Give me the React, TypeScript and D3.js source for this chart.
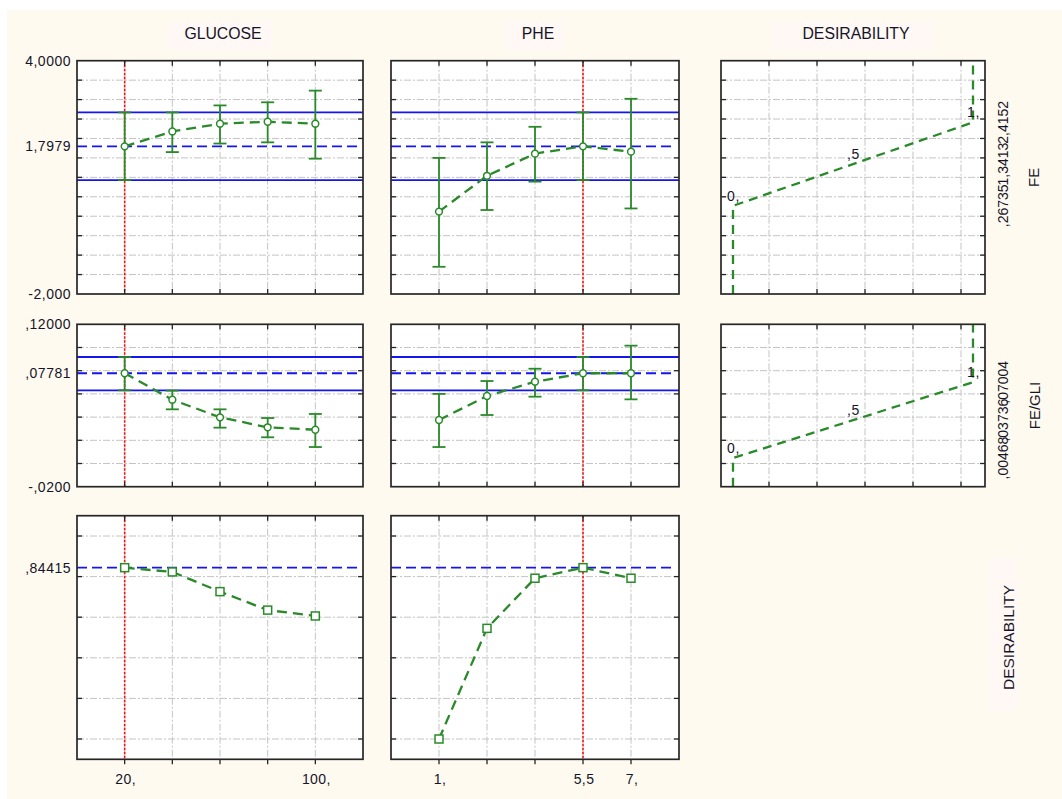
import React from "react";
import * as d3 from "d3";

// factor levels
const glucoseLevels = [20, 40, 60, 80, 100];
const pheLevels = [1, 2.5, 4, 5.5, 7];

// FE predicted values with confidence limits
const feGlucose = [1.798, 2.18, 2.38, 2.43, 2.38];
const feGlucoseHi = [2.67, 2.67, 2.85, 2.93, 3.23];
const feGlucoseLo = [0.93, 1.65, 1.87, 1.9, 1.48];
const fePhe = [0.12, 1.04, 1.61, 1.798, 1.66];
const fePheHi = [1.5, 1.9, 2.3, 2.67, 3.02];
const fePheLo = [-1.3, 0.16, 0.89, 0.93, 0.2];

// FE/GLI predicted values with confidence limits
const gliGlucose = [0.0778, 0.055, 0.0398, 0.0312, 0.0291];
const gliGlucoseHi = [0.0918, 0.0628, 0.0467, 0.0392, 0.0427];
const gliGlucoseLo = [0.0631, 0.0467, 0.0309, 0.0226, 0.0142];
const gliPhe = [0.0375, 0.0582, 0.0705, 0.0778, 0.0778];
const gliPheHi = [0.06, 0.0711, 0.0817, 0.0918, 0.1016];
const gliPheLo = [0.0142, 0.0418, 0.0576, 0.0631, 0.0553];

// overall desirability
const desGlucose = [0.844, 0.823, 0.726, 0.635, 0.606];
const desPhe = [0.0, 0.545, 0.792, 0.844, 0.792];

// reference lines
const feMean = 1.7979;
const feBand = [0.93, 2.67];
const gliMean = 0.07781;
const gliBand = [0.0631, 0.0918];
const desMean = 0.84415;

// desirability functions: response value at d = 0, .5, 1
const desirabilityD = [0, 0.5, 1];
const desirabilityDLabels = ["0,", ",5", "1,"];
const feDesValues = [0.26735, 1.3413, 2.4152];
const feDesLabels = [",26735", "1,3413", "2,4152"];
const gliDesValues = [0.00468, 0.03736, 0.07004];
const gliDesLabels = [",00468", ",03736", ",07004"];

// axis labels
const colTitles = ["GLUCOSE", "PHE", "DESIRABILITY"];
const rowTitles = ["FE", "FE/GLI", "DESIRABILITY"];
const feTickLabels = [
  { v: 4, t: "4,0000" },
  { v: feMean, t: "1,7979" },
  { v: -2, t: "-2,000" },
];
const gliTickLabels = [
  { v: 0.12, t: ",12000" },
  { v: gliMean, t: ",07781" },
  { v: -0.02, t: "-,0200" },
];
const desTickLabels = [{ v: desMean, t: ",84415" }];
const glucoseTickLabels = [
  { v: 20, t: "20," },
  { v: 100, t: "100," },
];
const pheTickLabels = [
  { v: 1, t: "1," },
  { v: 5.5, t: "5,5" },
  { v: 7, t: "7," },
];
const glucoseCurrent = 20;
const pheCurrent = 5.5;

// layout
const W = 1062;
const H = 799;
const colX = [
  [77, 363],
  [391, 679],
  [721, 985],
];
const rowY = [
  [60.7, 294],
  [324.3, 486.7],
  [515.7, 759.3],
];

const GREEN = "#2a8a2a";
const BLUE = "#1515f0";
const GRID = "#c4c4c4";
const TEXT = "#15152a";
const FONT = "'Liberation Sans', Arial, sans-serif";

const xGlu = d3.scaleLinear().domain([0, 120]).range(colX[0]);
const xPhe = d3.scaleLinear().domain([-0.5, 8.5]).range(colX[1]);
const xDes = d3.scaleLinear().domain([-0.05, 1.05]).range(colX[2]);

const yFe = d3.scaleLinear().domain([-2, 4]).range([rowY[0][1], rowY[0][0]]);
const yGli = d3.scaleLinear().domain([-0.02, 0.12]).range([rowY[1][1], rowY[1][0]]);
const yDes = d3.scaleLinear().domain([-0.1, 1.1]).range([rowY[2][1], rowY[2][0]]);

const feGrid = d3.range(-1.5, 3.51, 0.5);
const gliGrid = d3.range(0, 0.1001, 0.02);
const desGrid = d3.range(0, 1.001, 0.2);
const desXGrid = d3.range(0.15, 0.96, 0.2);

type Scale = d3.ScaleLinear<number, number>;

function Frame({ x, y, xTicks, yTicks }: { x: Scale; y: Scale; xTicks: number[]; yTicks: number[] }) {
  const [x0, x1] = x.range();
  const [y1, y0] = y.range();
  return (
    <g>
      <rect x={x0} y={y0} width={x1 - x0} height={y1 - y0} fill="#ffffff" />
      {xTicks.map((t, i) => (
        <line key={"gx" + i} x1={x(t)} x2={x(t)} y1={y0} y2={y1} stroke={GRID} strokeWidth={1} strokeDasharray="7,2,2,2" />
      ))}
      {yTicks.map((t, i) => (
        <line key={"gy" + i} x1={x0} x2={x1} y1={y(t)} y2={y(t)} stroke={GRID} strokeWidth={1} strokeDasharray="7,2,2,2" />
      ))}
    </g>
  );
}

function Border({ x, y, xTicks, yTicks, outTicks }: { x: Scale; y: Scale; xTicks: number[]; yTicks: number[]; outTicks?: boolean }) {
  const [x0, x1] = x.range();
  const [y1, y0] = y.range();
  return (
    <g stroke="#262626">
      {xTicks.map((t, i) => (
        <g key={"tx" + i}>
          <line x1={x(t)} x2={x(t)} y1={y0} y2={y0 + 5} strokeWidth={1.3} />
          <line x1={x(t)} x2={x(t)} y1={y1} y2={outTicks ? y1 + 5 : y1 - 5} strokeWidth={1.3} />
        </g>
      ))}
      {yTicks.map((t, i) => (
        <g key={"ty" + i}>
          <line x1={x0} x2={x0 + 5} y1={y(t)} y2={y(t)} strokeWidth={1.3} />
          <line x1={x1} x2={x1 - 5} y1={y(t)} y2={y(t)} strokeWidth={1.3} />
        </g>
      ))}
      <rect x={x0} y={y0} width={x1 - x0} height={y1 - y0} fill="none" strokeWidth={1.7} />
    </g>
  );
}

function RefLines({ x, y, mean, band }: { x: Scale; y: Scale; mean: number; band?: number[] }) {
  const [x0, x1] = x.range();
  return (
    <g>
      {band &&
        band.map((b, i) => <line key={i} x1={x0} x2={x1} y1={y(b)} y2={y(b)} stroke={BLUE} strokeWidth={1.8} />)}
      <line x1={x0} x2={x1 - 4} y1={y(mean)} y2={y(mean)} stroke={BLUE} strokeWidth={1.8} strokeDasharray="10,5" />
    </g>
  );
}

function Current({ x, y, value }: { x: Scale; y: Scale; value: number }) {
  const [y1, y0] = y.range();
  return <line x1={x(value)} x2={x(value)} y1={y0} y2={y1} stroke="#ff1010" strokeWidth={1.6} strokeDasharray="2.5,1.5" />;
}

function Profile({ x, y, levels, vals, hi, lo, square }: { x: Scale; y: Scale; levels: number[]; vals: number[]; hi?: number[]; lo?: number[]; square?: boolean }) {
  const line = d3
    .line<number>()
    .x((d, i) => x(levels[i]))
    .y((d) => y(d));
  return (
    <g>
      <path d={line(vals) || ""} fill="none" stroke={GREEN} strokeWidth={2.3} strokeDasharray="10,6" />
      {hi &&
        lo &&
        levels.map((l, i) => (
          <g key={"e" + i} stroke={GREEN} strokeWidth={1.8}>
            <line x1={x(l)} x2={x(l)} y1={y(hi[i])} y2={y(lo[i])} />
            <line x1={x(l) - 6.5} x2={x(l) + 6.5} y1={y(hi[i])} y2={y(hi[i])} />
            <line x1={x(l) - 6.5} x2={x(l) + 6.5} y1={y(lo[i])} y2={y(lo[i])} />
          </g>
        ))}
      {levels.map((l, i) =>
        square ? (
          <rect key={"m" + i} x={x(l) - 4} y={y(vals[i]) - 4} width={8} height={8} fill="#ffffff" stroke={GREEN} strokeWidth={1.5} />
        ) : (
          <circle key={"m" + i} cx={x(l)} cy={y(vals[i])} r={3.4} fill="#ffffff" stroke={GREEN} strokeWidth={1.5} />
        )
      )}
    </g>
  );
}

function DesFunction({ x, y, values }: { x: Scale; y: Scale; values: number[] }) {
  const [yMin, yMax] = y.domain();
  const pts: [number, number][] = [
    [x(0), y(yMin)],
    ...desirabilityD.map((d, i) => [x(d), y(values[i])] as [number, number]),
    [x(1), y(yMax)],
  ];
  return (
    <g>
      <path d={d3.line()(pts) || ""} fill="none" stroke={GREEN} strokeWidth={2.3} strokeDasharray="9,6" />
      {desirabilityD.map((d, i) => (
        <text key={i} x={x(d) - 6} y={y(values[i]) - 5} fontSize={14} letterSpacing={0.6} fill={TEXT} fontFamily={FONT}>
          {desirabilityDLabels[i]}
        </text>
      ))}
    </g>
  );
}

function YLabels({ y, labels }: { y: Scale; labels: { v: number; t: string }[] }) {
  return (
    <g>
      {labels.map((l, i) => (
        <text key={i} x={71} y={y(l.v)} dy="0.35em" textAnchor="end" fontSize={14} letterSpacing={0.5} fill={TEXT} fontFamily={FONT}>
          {l.t}
        </text>
      ))}
    </g>
  );
}

function XLabels({ x, labels }: { x: Scale; labels: { v: number; t: string }[] }) {
  return (
    <g>
      {labels.map((l, i) => (
        <text key={i} x={x(l.v) + 1} y={784} textAnchor="middle" fontSize={14} letterSpacing={0.4} fill={TEXT} fontFamily={FONT}>
          {l.t}
        </text>
      ))}
    </g>
  );
}

function ResponseLabels({ y, values, labels }: { y: Scale; values: number[]; labels: string[] }) {
  return (
    <g>
      {values.map((v, i) => (
        <text key={i} transform={`translate(1003,${y(v)}) rotate(-90)`} dy="0.35em" textAnchor="middle" fontSize={14} fill={TEXT} fontFamily={FONT}>
          {labels[i]}
        </text>
      ))}
    </g>
  );
}

export default function App() {
  const xs = [xGlu, xPhe];
  const xGrids = [glucoseLevels, pheLevels];
  const currents = [glucoseCurrent, pheCurrent];
  const colCenters = colX.map((c) => (c[0] + c[1]) / 2);

  return (
    <svg width={W} height={H} style={{ position: "absolute", left: 0, top: 0 }}>
      <rect x={0} y={0} width={W} height={H} fill="#ffffff" />
      <rect x={7} y={10} width={W - 7} height={H - 10} fill="#fffaf0" />

      {/* column titles */}
      {colTitles.map((t, i) => (
        <g key={t}>
          <rect x={colCenters[i] - (t.length * 5.6 + 14)} y={21.5} width={2 * (t.length * 5.6 + 14)} height={28.5} fill="#fff8f4" />
          <text x={colCenters[i] + 3} y={33} dy="0.35em" textAnchor="middle" fontSize={15.8} fill={TEXT} fontFamily={FONT}>
            {t}
          </text>
        </g>
      ))}

      {/* row 1: FE */}
      {xs.map((x, c) => (
        <g key={"r1" + c}>
          <Frame x={x} y={yFe} xTicks={xGrids[c]} yTicks={feGrid} />
          <RefLines x={x} y={yFe} mean={feMean} band={feBand} />
          <Current x={x} y={yFe} value={currents[c]} />
          <Profile
            x={x}
            y={yFe}
            levels={xGrids[c]}
            vals={c === 0 ? feGlucose : fePhe}
            hi={c === 0 ? feGlucoseHi : fePheHi}
            lo={c === 0 ? feGlucoseLo : fePheLo}
          />
          <Border x={x} y={yFe} xTicks={xGrids[c]} yTicks={feGrid} />
        </g>
      ))}
      <Frame x={xDes} y={yFe} xTicks={desXGrid} yTicks={feGrid} />
      <DesFunction x={xDes} y={yFe} values={feDesValues} />
      <Border x={xDes} y={yFe} xTicks={desXGrid} yTicks={feGrid} />
      <YLabels y={yFe} labels={feTickLabels} />
      <ResponseLabels y={yFe} values={feDesValues} labels={feDesLabels} />

      {/* row 2: FE/GLI */}
      {xs.map((x, c) => (
        <g key={"r2" + c}>
          <Frame x={x} y={yGli} xTicks={xGrids[c]} yTicks={gliGrid} />
          <RefLines x={x} y={yGli} mean={gliMean} band={gliBand} />
          <Current x={x} y={yGli} value={currents[c]} />
          <Profile
            x={x}
            y={yGli}
            levels={xGrids[c]}
            vals={c === 0 ? gliGlucose : gliPhe}
            hi={c === 0 ? gliGlucoseHi : gliPheHi}
            lo={c === 0 ? gliGlucoseLo : gliPheLo}
          />
          <Border x={x} y={yGli} xTicks={xGrids[c]} yTicks={gliGrid} />
        </g>
      ))}
      <Frame x={xDes} y={yGli} xTicks={desXGrid} yTicks={gliGrid} />
      <DesFunction x={xDes} y={yGli} values={gliDesValues} />
      <Border x={xDes} y={yGli} xTicks={desXGrid} yTicks={gliGrid} />
      <YLabels y={yGli} labels={gliTickLabels} />
      <ResponseLabels y={yGli} values={gliDesValues} labels={gliDesLabels} />

      {/* row 3: desirability */}
      {xs.map((x, c) => (
        <g key={"r3" + c}>
          <Frame x={x} y={yDes} xTicks={xGrids[c]} yTicks={desGrid} />
          <RefLines x={x} y={yDes} mean={desMean} />
          <Current x={x} y={yDes} value={currents[c]} />
          <Profile x={x} y={yDes} levels={xGrids[c]} vals={c === 0 ? desGlucose : desPhe} square />
          <Border x={x} y={yDes} xTicks={xGrids[c]} yTicks={desGrid} outTicks />
        </g>
      ))}
      <YLabels y={yDes} labels={desTickLabels} />
      <XLabels x={xGlu} labels={glucoseTickLabels} />
      <XLabels x={xPhe} labels={pheTickLabels} />

      {/* row titles */}
      <text transform={`translate(1034,${(rowY[0][0] + rowY[0][1]) / 2}) rotate(-90)`} dy="0.35em" textAnchor="middle" fontSize={15} fill={TEXT} fontFamily={FONT}>
        {rowTitles[0]}
      </text>
      <text transform={`translate(1035,${(rowY[1][0] + rowY[1][1]) / 2}) rotate(-90)`} dy="0.35em" textAnchor="middle" fontSize={15} fill={TEXT} fontFamily={FONT}>
        {rowTitles[1]}
      </text>
      <rect x={988} y={558} width={30} height={154} fill="#fff8f4" />
      <text transform={`translate(1009,${(rowY[2][0] + rowY[2][1]) / 2}) rotate(-90)`} dy="0.35em" textAnchor="middle" fontSize={15.5} fill={TEXT} fontFamily={FONT}>
        {rowTitles[2]}
      </text>
    </svg>
  );
}
